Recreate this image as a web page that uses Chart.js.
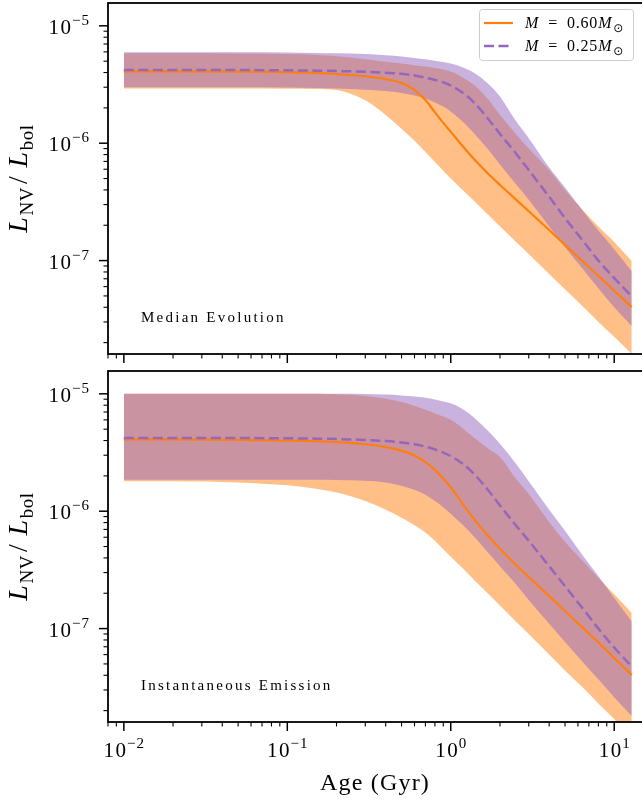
<!DOCTYPE html>
<html>
<head>
<meta charset="utf-8">
<title>N V luminosity vs age</title>
<script src="https://cdn.jsdelivr.net/npm/chart.js@4"></script>
<style>
  html, body { margin: 0; padding: 0; background: #fff; overflow: hidden; }
  #wrap { position: relative; width: 642px; height: 801px; overflow: hidden; }
  canvas { position: absolute; left: 0; top: 0; }
</style>
</head>
<body>
<div id="wrap">
  <canvas id="median" width="644" height="801"></canvas>
  <canvas id="instant" width="644" height="801"></canvas>
</div>
<script>
/*global Chart*/

// age grid in Gyr, shared by every curve
var ages = [0.01, 0.02, 0.05, 0.1, 0.15, 0.2, 0.3, 0.4, 0.5, 0.6, 0.7, 0.8, 0.9, 1.0,
    1.2, 1.4, 1.7, 2.0, 2.5, 3.0, 4.0, 5.0, 6.5, 8.0, 10.0, 12.8];

// median evolution, M = 0.60 Msun
var median60 = [4.1e-6, 4.1e-6, 4.08e-6, 4.04e-6, 3.97e-6, 3.88e-6, 3.72e-6, 3.52e-6, 3.26e-6, 2.84e-6,
    2.33e-6, 1.83e-6, 1.49e-6, 1.25e-6, 9.24e-7, 7.22e-7, 5.46e-7, 4.41e-7, 3.32e-7, 2.63e-7,
    1.82e-7, 1.36e-7, 9.7e-8, 7.4e-8, 5.53e-8, 4.02e-8];
var median60Lo = [2.92e-6, 2.92e-6, 2.92e-6, 2.91e-6, 2.9e-6, 2.84e-6, 2.32e-6, 1.74e-6, 1.33e-6, 1.05e-6,
    8.4e-7, 6.9e-7, 5.83e-7, 5.0e-7, 3.91e-7, 3.18e-7, 2.45e-7, 1.96e-7, 1.45e-7, 1.14e-7,
    7.7e-8, 5.7e-8, 4.0e-8, 3.0e-8, 2.24e-8, 1.6e-8];
var median60Hi = [5.85e-6, 5.85e-6, 5.82e-6, 5.75e-6, 5.65e-6, 5.5e-6, 5.2e-6, 4.95e-6, 4.78e-6, 4.62e-6,
    4.5e-6, 4.38e-6, 4.25e-6, 4.08e-6, 3.6e-6, 3.1e-6, 2.35e-6, 1.75e-6, 1.2e-6, 9.0e-7,
    5.9e-7, 4.0e-7, 2.65e-7, 1.95e-7, 1.44e-7, 9.9e-8];

// median evolution, M = 0.25 Msun
var median25 = [4.2e-6, 4.2e-6, 4.2e-6, 4.18e-6, 4.15e-6, 4.12e-6, 4.06e-6, 3.98e-6, 3.9e-6, 3.78e-6,
    3.62e-6, 3.46e-6, 3.3e-6, 3.1e-6, 2.66e-6, 2.2e-6, 1.6e-6, 1.2e-6, 8.2e-7, 5.9e-7,
    3.5e-7, 2.3e-7, 1.45e-7, 1.0e-7, 7.1e-8, 4.95e-8];
var median25Lo = [3.0e-6, 3.0e-6, 3.0e-6, 2.98e-6, 2.95e-6, 2.92e-6, 2.86e-6, 2.78e-6, 2.68e-6, 2.55e-6,
    2.4e-6, 2.22e-6, 2.05e-6, 1.86e-6, 1.5e-6, 1.2e-6, 8.8e-7, 6.6e-7, 4.5e-7, 3.3e-7,
    1.95e-7, 1.3e-7, 8.3e-8, 5.8e-8, 4.0e-8, 2.77e-8];
var median25Hi = [5.95e-6, 5.95e-6, 5.95e-6, 5.92e-6, 5.88e-6, 5.84e-6, 5.75e-6, 5.62e-6, 5.48e-6, 5.32e-6,
    5.18e-6, 5.05e-6, 4.92e-6, 4.78e-6, 4.4e-6, 3.95e-6, 3.2e-6, 2.5e-6, 1.55e-6, 1.1e-6,
    6.2e-7, 4.2e-7, 2.6e-7, 1.8e-7, 1.25e-7, 8.1e-8];

// instantaneous emission, M = 0.60 Msun
var instant60 = [4.1e-6, 4.1e-6, 4.06e-6, 4.0e-6, 3.95e-6, 3.88e-6, 3.72e-6, 3.52e-6, 3.28e-6, 2.98e-6,
    2.62e-6, 2.25e-6, 1.9e-6, 1.6e-6, 1.12e-6, 8.43e-7, 6.12e-7, 4.79e-7, 3.5e-7, 2.75e-7,
    1.89e-7, 1.41e-7, 1.0e-7, 7.6e-8, 5.62e-8, 4.03e-8];
var instant60Lo = [1.8e-6, 1.8e-6, 1.76e-6, 1.66e-6, 1.55e-6, 1.44e-6, 1.22e-6, 1.03e-6, 8.8e-7, 7.6e-7,
    6.6e-7, 5.6e-7, 4.75e-7, 4.1e-7, 3.2e-7, 2.57e-7, 1.97e-7, 1.57e-7, 1.15e-7, 9.0e-8,
    6.0e-8, 4.4e-8, 3.1e-8, 2.3e-8, 1.7e-8, 1.2e-8];
var instant60Hi = [1.0e-5, 1.0e-5, 1.0e-5, 1.0e-5, 1.0e-5, 9.9e-6, 9.6e-6, 9.1e-6, 8.5e-6, 7.9e-6,
    7.3e-6, 6.8e-6, 6.4e-6, 6.0e-6, 5.0e-6, 4.2e-6, 3.4e-6, 2.9e-6, 1.9e-6, 1.4e-6,
    8.1e-7, 5.5e-7, 3.7e-7, 2.7e-7, 1.96e-7, 1.36e-7];

// instantaneous emission, M = 0.25 Msun
var instant25 = [4.2e-6, 4.2e-6, 4.2e-6, 4.18e-6, 4.15e-6, 4.12e-6, 4.05e-6, 3.96e-6, 3.85e-6, 3.72e-6,
    3.55e-6, 3.36e-6, 3.16e-6, 2.95e-6, 2.5e-6, 2.05e-6, 1.5e-6, 1.12e-6, 7.6e-7, 5.6e-7,
    3.4e-7, 2.3e-7, 1.45e-7, 1.0e-7, 6.9e-8, 4.75e-8];
var instant25Lo = [1.85e-6, 1.85e-6, 1.85e-6, 1.85e-6, 1.85e-6, 1.84e-6, 1.82e-6, 1.76e-6, 1.65e-6, 1.52e-6,
    1.38e-6, 1.22e-6, 1.08e-6, 9.5e-7, 7.5e-7, 6.0e-7, 4.4e-7, 3.4e-7, 2.4e-7, 1.75e-7,
    1.1e-7, 7.7e-8, 5.1e-8, 3.7e-8, 2.6e-8, 1.8e-8];
var instant25Hi = [1.0e-5, 1.0e-5, 1.0e-5, 1.0e-5, 1.0e-5, 1.0e-5, 9.95e-6, 9.85e-6, 9.7e-6, 9.5e-6,
    9.25e-6, 8.95e-6, 8.6e-6, 8.3e-6, 7.3e-6, 6.2e-6, 4.8e-6, 3.75e-6, 2.55e-6, 1.8e-6,
    1.03e-6, 6.8e-7, 4.1e-7, 2.8e-7, 1.82e-7, 1.15e-7];

// tick labels are powers of ten
var xTickPowers = [-2, -1, 0, 1];
var yTickPowers = [-5, -6, -7];
var legendMasses = ["0.60", "0.25"];

var SERIF = "'Liberation Serif', 'DejaVu Serif', serif";
var ORANGE = "#ff7f0e";
var PURPLE = "#9467bd";
var DASH = [10, 4.5];

function font(size, italic) {
    return (italic ? "italic " : "") + size + "px " + SERIF;
}

function pts(values) {
    return ages.map(function (x, i) {
        return {x: x, y: values[i]};
    });
}

// runs of text with their own font and baseline shift, for sub/superscripts
function runsWidth(ctx, runs) {
    var w = 0;
    runs.forEach(function (r) {
        ctx.font = r.font;
        w += ctx.measureText(r.t).width + (r.gap || 0);
    });
    return w;
}

function drawRuns(ctx, runs, x, y) {
    runs.forEach(function (r) {
        ctx.font = r.font;
        ctx.fillText(r.t, x, y + (r.dy || 0));
        x += ctx.measureText(r.t).width + (r.gap || 0);
    });
}

function powerRuns(p) {
    var runs = [
        {t: "1", font: font(21), gap: 1.5},
        {t: "0", font: font(21), gap: 1}
    ];
    if (p < 0) {
        runs.push({t: "\u2212", font: font(15), dy: -9, gap: 1});
    }
    runs.push({t: String(Math.abs(p)), font: font(15), dy: -9});
    return runs;
}

function logTicks(min, max) {
    var out = [];
    var e, m, v;
    for (e = Math.floor(Math.log10(min)); e <= Math.ceil(Math.log10(max)); e++) {
        for (m = 1; m < 10; m++) {
            v = m * Math.pow(10, e);
            if (v >= min && v <= max) {
                out.push({v: v, major: m === 1});
            }
        }
    }
    return out;
}

function drawLegend(ctx, area) {
    var w = 154, h = 51;
    var x = area.right - 10 - w, y = area.top + 6;
    ctx.fillStyle = "rgba(255,255,255,0.8)";
    ctx.strokeStyle = "#cccccc";
    ctx.lineWidth = 1;
    ctx.beginPath();
    ctx.roundRect(x + 0.5, y + 0.5, w, h, 3);
    ctx.fill();
    ctx.stroke();

    legendMasses.forEach(function (mass, i) {
        var ly = y + 14 + i * 23;
        ctx.strokeStyle = i === 0 ? ORANGE : PURPLE;
        ctx.lineWidth = i === 0 ? 2.2 : 2.5;
        ctx.setLineDash(i === 0 ? [] : DASH);
        ctx.beginPath();
        ctx.moveTo(x + 5, ly);
        ctx.lineTo(x + 34, ly);
        ctx.stroke();
        ctx.setLineDash([]);
        ctx.fillStyle = "#000";
        ctx.letterSpacing = "0.8px";
        drawRuns(ctx, [
            {t: "M", font: font(16, true), gap: 9},
            {t: "=", font: font(16), gap: 9},
            {t: mass, font: font(16)},
            {t: "M", font: font(16, true), gap: 1},
            {t: "\u2299", font: "12px 'DejaVu Sans'", dy: 4}
        ], x + 46, ly + 5);
        ctx.letterSpacing = "0px";
    });
}

// frame, outward log ticks, power-of-ten labels and panel texts
var axesFrame = {
    id: "axesFrame",
    afterDraw: function (chart, args, opts) {
        var ctx = chart.ctx;
        var a = chart.chartArea;
        var xs = chart.scales.x;
        var ys = chart.scales.y;
        var ylab;
        var yc;

        ctx.save();
        ctx.strokeStyle = "#000";
        ctx.fillStyle = "#000";

        logTicks(ys.min, ys.max).forEach(function (t) {
            var y = ys.getPixelForValue(t.v);
            ctx.lineWidth = t.major ? 1.5 : 1.1;
            ctx.beginPath();
            ctx.moveTo(a.left, y);
            ctx.lineTo(a.left - (t.major ? 9 : 4.5), y);
            ctx.stroke();
        });
        logTicks(xs.min, xs.max).forEach(function (t) {
            var x = xs.getPixelForValue(t.v);
            ctx.lineWidth = t.major ? 1.5 : 1.1;
            ctx.beginPath();
            ctx.moveTo(x, a.bottom);
            ctx.lineTo(x, a.bottom + (t.major ? 9 : 4.5));
            ctx.stroke();
        });

        ctx.lineWidth = 1.8;
        ctx.strokeRect(a.left, a.top, a.right - a.left, a.bottom - a.top);

        ctx.textBaseline = "alphabetic";
        ctx.textAlign = "left";
        yTickPowers.forEach(function (p) {
            var runs = powerRuns(p);
            var y = ys.getPixelForValue(Math.pow(10, p));
            drawRuns(ctx, runs, a.left - 19 - runsWidth(ctx, runs), y + 8);
        });

        if (opts.xLabels) {
            xTickPowers.forEach(function (p) {
                var runs = powerRuns(p);
                var x = xs.getPixelForValue(Math.pow(10, p));
                drawRuns(ctx, runs, x - runsWidth(ctx, runs) / 2, a.bottom + 35);
            });
            ctx.font = font(24);
            ctx.letterSpacing = "1.2px";
            ctx.textAlign = "center";
            ctx.fillText("Age (Gyr)", (a.left + 642) / 2, a.bottom + 68);
            ctx.textAlign = "left";
            ctx.letterSpacing = "0px";
        }

        // y axis title, rotated
        ylab = [
            {t: "L", font: font(28, true), gap: 1},
            {t: "NV", font: font(19), dy: 6, gap: 3},
            {t: "/", font: font(28), gap: 8},
            {t: "L", font: font(28, true), gap: 1},
            {t: "bol", font: font(19), dy: 6}
        ];
        yc = (a.top + a.bottom) / 2;
        ctx.save();
        ctx.translate(27, yc);
        ctx.rotate(-Math.PI / 2);
        ctx.letterSpacing = "0.6px";
        drawRuns(ctx, ylab, -runsWidth(ctx, ylab) / 2, 0);
        ctx.restore();

        ctx.font = font(15);
        ctx.letterSpacing = "2.25px";
        ctx.fillText(opts.note, a.left + 33, a.bottom - 32);
        ctx.letterSpacing = "0px";

        if (opts.legend) {
            drawLegend(ctx, a);
        }
        ctx.restore();
    }
};

function bandSet(hi, lo, color, order) {
    return [
        {data: pts(hi), fill: "+1", backgroundColor: color, borderColor: "rgba(0,0,0,0)", borderWidth: 0, order: order},
        {data: pts(lo), fill: false, borderColor: "rgba(0,0,0,0)", borderWidth: 0, order: order}
    ];
}

function panel(canvasId, s, opts) {
    var pad = opts.xLabels
        ? {left: 0, right: 1, top: 371, bottom: 0}
        : {left: 0, right: 1, top: 3, bottom: 437};
    var xHeight = opts.xLabels ? 79 : 10;

    return new Chart(document.getElementById(canvasId), {
        type: "line",
        data: {
            datasets: bandSet(s.hi60, s.lo60, "rgba(255,127,14,0.5)", 3)
                .concat(bandSet(s.hi25, s.lo25, "rgba(148,103,189,0.5)", 2))
                .concat([
                    {data: pts(s.mid60), borderColor: ORANGE, borderWidth: 2.2, fill: false, order: 1},
                    {data: pts(s.mid25), borderColor: PURPLE, borderWidth: 2.5, borderDash: DASH, fill: false, order: 0}
                ])
        },
        options: {
            responsive: false,
            animation: false,
            events: [],
            layout: {padding: pad},
            elements: {
                point: {radius: 0},
                line: {cubicInterpolationMode: "monotone"}
            },
            scales: {
                x: {
                    type: "logarithmic",
                    min: 0.008,
                    max: 15,
                    grid: {display: false},
                    border: {display: false},
                    ticks: {display: false},
                    afterFit: function (scale) {
                        scale.height = xHeight;
                    }
                },
                y: {
                    type: "logarithmic",
                    min: 1.6e-8,
                    max: 1.565e-5,
                    grid: {display: false},
                    border: {display: false},
                    ticks: {display: false},
                    afterFit: function (scale) {
                        scale.width = 108;
                    }
                }
            },
            plugins: {
                legend: {display: false},
                tooltip: {enabled: false},
                axesFrame: opts
            }
        },
        plugins: [axesFrame]
    });
}

panel("median", {
    mid60: median60, lo60: median60Lo, hi60: median60Hi,
    mid25: median25, lo25: median25Lo, hi25: median25Hi
}, {note: "Median Evolution", legend: true, xLabels: false});

panel("instant", {
    mid60: instant60, lo60: instant60Lo, hi60: instant60Hi,
    mid25: instant25, lo25: instant25Lo, hi25: instant25Hi
}, {note: "Instantaneous Emission", legend: false, xLabels: true});
</script>
</body>
</html>
